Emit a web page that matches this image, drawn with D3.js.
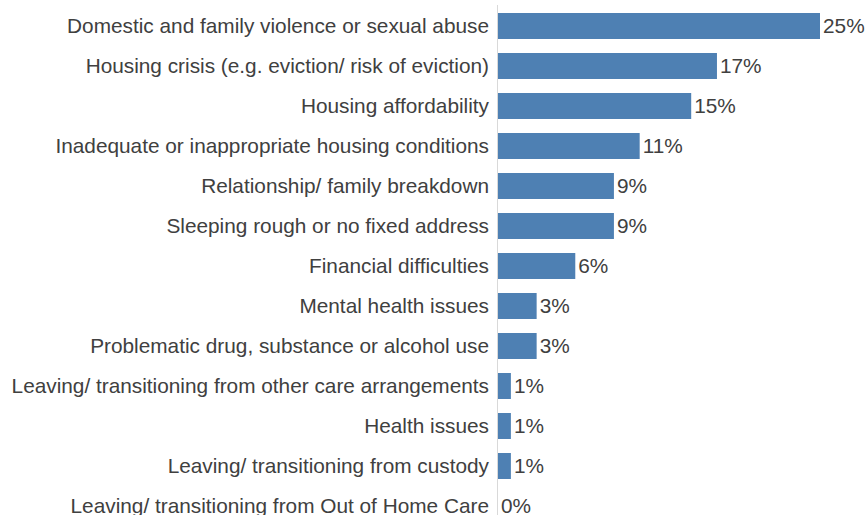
<!DOCTYPE html>
<html>
<head>
<meta charset="utf-8">
<script src="https://cdn.jsdelivr.net/npm/d3@7"></script>
<style>
  html, body { margin: 0; padding: 0; background: #fff; }
  svg { display: block; }
  text { font-family: "Liberation Sans", Arial, sans-serif; fill: #404040; }
</style>
</head>
<body>
<svg id="chart" width="868" height="515"></svg>
<script>
// Reasons for seeking assistance, share of clients (%)
const categories = [
  "Domestic and family violence or sexual abuse",
  "Housing crisis (e.g. eviction/ risk of eviction)",
  "Housing affordability",
  "Inadequate or inappropriate housing conditions",
  "Relationship/ family breakdown",
  "Sleeping rough or no fixed address",
  "Financial difficulties",
  "Mental health issues",
  "Problematic drug, substance or alcohol use",
  "Leaving/ transitioning from other care arrangements",
  "Health issues",
  "Leaving/ transitioning from custody",
  "Leaving/ transitioning from Out of Home Care"
];
const values = [25, 17, 15, 11, 9, 9, 6, 3, 3, 1, 1, 1, 0];

const fontSize = "20.8px";
const svg = d3.select("#chart");
const x0 = 498;

const x = d3.scaleLinear().domain([0, 25]).range([x0, 820]);
const y = d3.scaleBand().domain(categories).range([6, 526]).paddingInner(0.35).paddingOuter(0.175);

// vertical baseline
svg.append("line")
  .attr("x1", x0 - 0.5).attr("x2", x0 - 0.5)
  .attr("y1", 5).attr("y2", 515)
  .attr("stroke", "#d9d9d9").attr("stroke-width", 1);

// category labels
const axis = d3.axisLeft(y).tickSize(0).tickPadding(9);
const g = svg.append("g").attr("transform", `translate(${x0},0)`).call(axis);
g.select(".domain").remove();
g.selectAll("text")
  .style("font-family", '"Liberation Sans", Arial, sans-serif')
  .style("font-size", fontSize)
  .attr("fill", "#404040");

// bars
svg.append("g").selectAll("rect")
  .data(values)
  .join("rect")
  .attr("x", x0)
  .attr("y", (d, i) => y(categories[i]))
  .attr("width", d => x(d) - x0)
  .attr("height", y.bandwidth())
  .attr("fill", "#4e80b3");

// value labels
svg.append("g").selectAll("text")
  .data(values)
  .join("text")
  .attr("x", d => x(d) + 3)
  .attr("y", (d, i) => y(categories[i]) + y.bandwidth() / 2)
  .attr("dy", "0.35em")
  .style("font-size", fontSize)
  .text(d => d + "%");
</script>
</body>
</html>
